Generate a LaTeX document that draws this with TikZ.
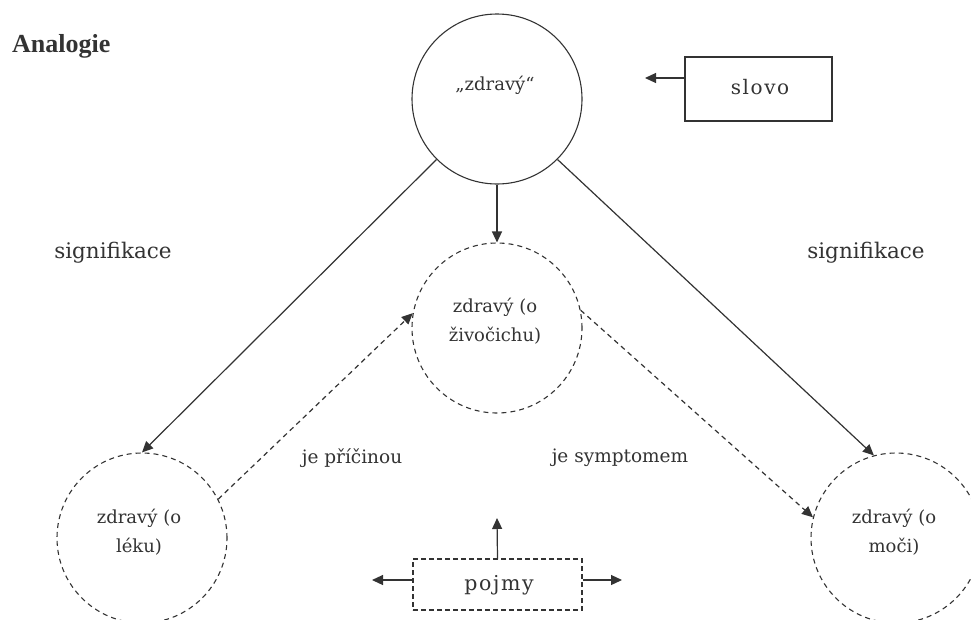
\documentclass[tikz,border=0pt]{standalone}
\usepackage{fontspec}
\setmainfont{DejaVu Serif}
\newfontfamily\widefont{DejaVu Serif}[LetterSpace=8]
\newfontfamily\boldfont{Liberation Serif}[BoldFont={* Bold}]
\usetikzlibrary{arrows.meta}
\definecolor{ink}{gray}{0.2}
\tikzset{
  ring/.style={circle, draw=ink, line width=1.1pt, minimum size=170pt, inner sep=0pt},
  dashring/.style={ring, dash pattern=on 5pt off 4pt},
  txt/.style={text=ink, inner sep=0pt, align=center, font=\fontsize{18}{29}\selectfont},
  sigtxt/.style={text=ink, inner sep=0pt, font=\fontsize{21.5}{26}\selectfont},
  boxtxt/.style={draw=ink, line width=1.1pt, inner sep=0pt, text=ink},
  arr/.style={draw=ink, line width=1.2pt, -{Triangle[length=11pt,width=10pt]}},
  darr/.style={arr, dash pattern=on 5pt off 4pt},
}
\begin{document}
\begin{tikzpicture}[x=1pt,y=-1pt]
\useasboundingbox (0,0) rectangle (971,619);
% title
\node[text=ink, inner sep=0pt, anchor=base west, font=\boldfont\bfseries\fontsize{26}{30}\selectfont] (title) at (12,52) {Analogie};
% circles
\node[ring] (top) at (497,99) {};
\node[txt] (toptext) at (495,85) {„zdravý“};
\node[dashring] (mid) at (497,328) {};
\node[txt] (midtext) at (495,321) {zdravý (o\\živočichu)};
\node[dashring] (left) at (142,538) {};
\node[txt] (lefttext) at (139,532) {zdravý (o\\léku)};
\node[dashring] (right) at (896,538) {};
\node[txt] (righttext) at (894,532) {zdravý (o\\moči)};
% boxes
\node[boxtxt, minimum width=147pt, minimum height=64pt] (slovo) at (758.5,89) {};
\node[text=ink, inner sep=0pt, font=\widefont\fontsize{20}{24}\selectfont] (slovotext) at (760,87) {slovo};
\node[boxtxt, dash pattern=on 5pt off 3pt, minimum width=169pt, minimum height=51pt] (pojmy) at (497.5,584.5) {};
\node[text=ink, inner sep=0pt, font=\widefont\fontsize{20.5}{24}\selectfont] (pojmytext) at (499,585) {pojmy};
% labels
\node[sigtxt] (sigL) at (113,253) {signifikace};
\node[sigtxt] (sigR) at (866,253) {signifikace};
\node[txt, font=\fontsize{18.5}{29}\selectfont] (pricina) at (352,458) {je příčinou};
\node[txt, font=\fontsize{18.5}{29}\selectfont] (symptom) at (620,458) {je symptomem};
% free ends
\coordinate (slovoend) at (645,78);
\coordinate (pup) at (497,518);
\coordinate (pleft) at (372,580);
\coordinate (pright) at (622,580);
% connectors
\draw[arr] (top.south) -- (mid.north);
\draw[arr] (top.225) -- (left.90);
\draw[arr] (top.-45) -- (right.105);
\draw[darr] (left.27) -- (mid.170);
\draw[darr] (mid.12) -- (right.166);
\draw[arr] (slovo.west |- slovoend) -- (slovoend);
\draw[arr] (pojmy.north |- 0,559) -- (pup);
\draw[arr] (pojmy.west |- pleft) -- (pleft);
\draw[arr] (pojmy.east |- pright) -- (pright);
\end{tikzpicture}
\end{document}
